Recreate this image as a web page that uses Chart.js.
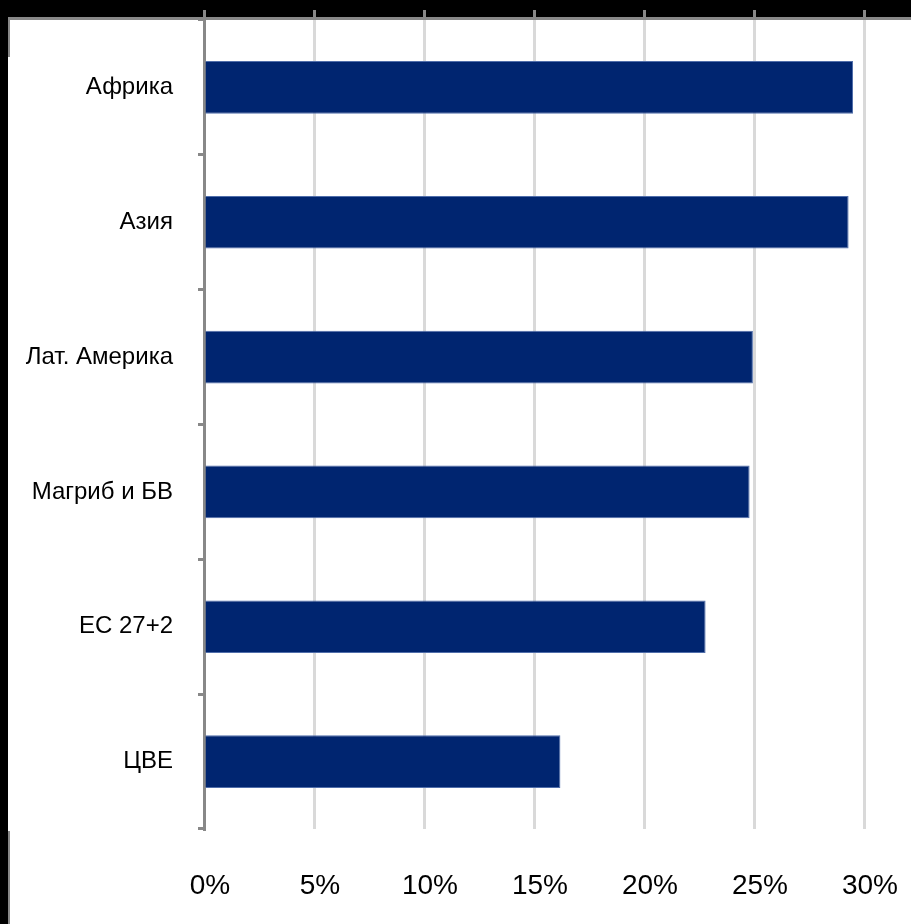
<!DOCTYPE html>
<html>
<head>
<meta charset="utf-8">
<script src="https://cdn.jsdelivr.net/npm/chart.js@4"></script>
<style>
  html, body { margin: 0; padding: 0; background: #000; }
  #wrap { position: relative; width: 911px; height: 924px; overflow: hidden; }
  #paper { position: absolute; left: 8px; top: 17px; right: 0; bottom: 0; background: #fff;
           border-top: 3px solid #888; }
  #edge1 { position: absolute; left: 8px; top: 17px; width: 2px; height: 40px; background: #888; }
  #edge2 { position: absolute; left: 8px; top: 831px; width: 2px; height: 93px; background: #888; }
  canvas { position: absolute; left: 0; top: 0; }
</style>
</head>
<body>
<div id="wrap">
  <div id="paper"></div>
  <div id="edge1"></div>
  <div id="edge2"></div>
  <canvas id="grafica" width="911" height="924"></canvas>
</div>
<script>
// DATA
var categories = ['Африка', 'Азия', 'Лат. Америка', 'Магриб и БВ', 'ЕС 27+2', 'ЦВЕ'];
var values = [29.5, 29.3, 24.95, 24.8, 22.8, 16.2];
var tickLabels = ['0%', '5%', '10%', '15%', '20%', '25%', '30%'];

// fixed axis sizes so the plot sits where the original one does
function noPad(s) { s.paddingLeft = 0; s.paddingRight = 0; s.paddingTop = 0; s.paddingBottom = 0; }

var ctx = document.getElementById("grafica").getContext("2d");
var myChart = new Chart(ctx, {
    type: 'bar',
    data: {
        labels: categories,
        datasets: [{
            label: "",
            data: values,
            backgroundColor: "rgb(0, 37, 112)",
            borderColor: "rgb(80, 110, 170)",
            borderWidth: { top: 1, bottom: 1, left: 0, right: 1 },
            barPercentage: 0.39,
            categoryPercentage: 1,
            xAxisID: 'x',
            yAxisID: 'y'
        }]
    },
    options: {
        indexAxis: 'y',
        responsive: false,
        animation: false,
        layout: { autoPadding: false, padding: { left: 0, right: 47, top: 10, bottom: 21 } },
        plugins: {
            legend: { display: false },
            tooltip: { enabled: false }
        },
        scales: {
            x: {
                position: 'bottom',
                min: 0, max: 30,
                afterFit: function (s) { noPad(s); s.height = 74; },
                ticks: {
                    stepSize: 5,
                    padding: 40,
                    labelOffset: 6,
                    color: '#000',
                    font: { family: 'Liberation Sans, Arial', size: 28 },
                    callback: function (v, i) { return tickLabels[i]; }
                },
                grid: { color: '#d9d9d9', lineWidth: 3, drawTicks: false },
                border: { display: false }
            },
            x2: {
                position: 'top',
                min: 0, max: 30,
                afterFit: function (s) { noPad(s); s.height = 10; },
                ticks: { stepSize: 5, display: false },
                grid: { drawOnChartArea: false, color: '#888', lineWidth: 3, tickLength: 10 },
                border: { display: false }
            },
            y: {
                position: 'left',
                afterFit: function (s) { noPad(s); s.width = 204; },
                ticks: {
                    padding: 25,
                    color: '#000',
                    font: { family: 'Liberation Sans, Arial', size: 24 }
                },
                grid: { drawOnChartArea: false, color: '#888', lineWidth: 3, tickLength: 6 },
                border: { display: true, color: '#888', width: 3 }
            }
        }
    }
});
</script>
</body>
</html>
